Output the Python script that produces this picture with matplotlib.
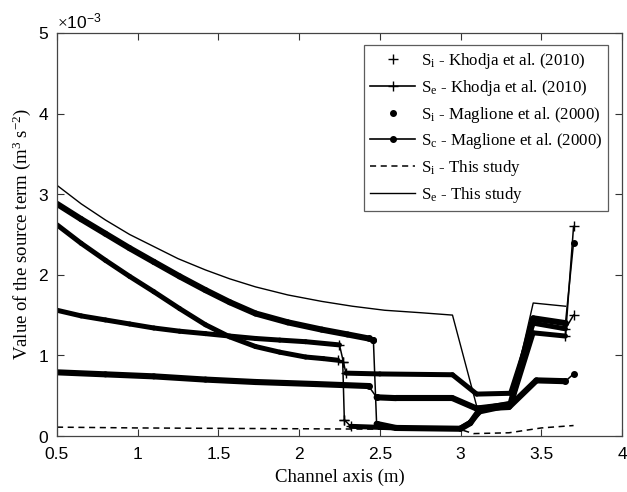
import matplotlib
matplotlib.use("Agg")
import matplotlib.pyplot as plt
from matplotlib.lines import Line2D

plt.rcParams['font.family'] = ['Liberation Serif', 'DejaVu Serif']
plt.rcParams['mathtext.fontset'] = 'custom'
plt.rcParams['mathtext.rm'] = 'Liberation Serif'
plt.rcParams['mathtext.it'] = 'Liberation Serif:italic'

# values in 1e-3 m^3 s^-2
se_study_x = [0.5, 0.65, 0.8, 0.95, 1.1, 1.25, 1.42, 1.57, 1.73, 1.93, 2.14, 2.33, 2.53, 2.75, 2.95,
              3.1, 3.31, 3.45, 3.65]
se_study_y = [3.11, 2.88, 2.68, 2.5, 2.35, 2.2, 2.06, 1.95, 1.85, 1.75, 1.67, 1.61, 1.56, 1.53, 1.50,
              0.37, 0.42, 1.65, 1.61]

si_study_x = [0.5, 1.0, 1.5, 2.0, 2.5, 3.0, 3.08, 3.3, 3.5, 3.7]
si_study_y = [0.11, 0.10, 0.095, 0.09, 0.085, 0.08, 0.03, 0.04, 0.10, 0.13]

khodja_se_x = [0.5, 0.65, 0.8, 0.95, 1.1, 1.26, 1.42, 1.57, 1.73, 1.88, 2.04, 2.15, 2.24, 2.27, 2.28,
               2.32, 2.6, 3.0, 3.06, 3.12, 3.31, 3.45, 3.65, 3.7]
khodja_se_y = [2.62, 2.39, 2.18, 1.98, 1.79, 1.58, 1.38, 1.23, 1.11, 1.04, 0.98, 0.96, 0.94, 0.92, 0.2,
               0.12, 0.1, 0.1, 0.17, 0.3, 0.38, 1.28, 1.24, 2.6]

khodja_si_x = [0.5, 0.65, 0.8, 0.95, 1.1, 1.26, 1.42, 1.57, 1.73, 1.88, 2.04, 2.25, 2.29, 2.5, 2.95,
               3.1, 3.31, 3.45, 3.65, 3.7]
khodja_si_y = [1.56, 1.49, 1.44, 1.39, 1.34, 1.30, 1.27, 1.24, 1.21, 1.19, 1.17, 1.13, 0.78, 0.77, 0.76,
               0.52, 0.53, 1.40, 1.33, 1.5]

maglione_se_x = [0.5, 0.65, 0.8, 0.95, 1.1, 1.26, 1.42, 1.57, 1.73, 1.93, 2.14, 2.3, 2.43, 2.46, 2.48,
                 2.6, 3.0, 3.06, 3.12, 3.31, 3.45, 3.65, 3.7]
maglione_se_y = [2.88, 2.69, 2.51, 2.33, 2.16, 1.98, 1.81, 1.66, 1.52, 1.41, 1.32, 1.26, 1.21, 1.19, 0.15,
                 0.1, 0.09, 0.16, 0.33, 0.40, 1.46, 1.40, 2.4]

maglione_si_x = [0.5, 0.8, 1.1, 1.42, 1.73, 2.1, 2.43, 2.48, 2.6, 2.95, 3.1, 3.3, 3.47, 3.65, 3.7]
maglione_si_y = [0.79, 0.765, 0.74, 0.70, 0.67, 0.645, 0.62, 0.48, 0.47, 0.47, 0.34, 0.36, 0.69, 0.68, 0.77]


def band(ax, xs, ys, lw, marker, ms):
    # dense marker series look like thick bands, sparse jumps like thin lines with markers
    for i in range(len(xs) - 1):
        x0, x1 = xs[i], xs[i + 1]
        y0, y1 = ys[i] * 1e-3, ys[i + 1] * 1e-3
        if x1 - x0 <= 0.051:
            ax.plot([x0, x1], [y0, y1], color='black', lw=1.1)
            ax.plot([x0, x1], [y0, y1], ls='none', marker=marker, ms=ms,
                    color='black', mew=1.0)
        else:
            ax.plot([x0, x1], [y0, y1], color='black', lw=lw,
                    solid_capstyle='round', solid_joinstyle='round')


fig = plt.figure(figsize=(6.27, 4.92), dpi=100)
ax = fig.add_axes([0.0909, 0.1138, 0.9011, 0.8192])

band(ax, khodja_se_x, khodja_se_y, 3.6, '+', 7)
band(ax, khodja_si_x, khodja_si_y, 3.6, '+', 7)
band(ax, maglione_se_x, maglione_se_y, 4.4, 'o', 4)
band(ax, maglione_si_x, maglione_si_y, 4.4, 'o', 4)

ax.plot(si_study_x, [v * 1e-3 for v in si_study_y], color='black', lw=1.1, ls=(0, (4, 3)))
ax.plot(se_study_x, [v * 1e-3 for v in se_study_y], color='black', lw=1.0)

ax.set_xlim(0.5, 4)
ax.set_ylim(0, 5e-3)
ax.set_xticks([0.5, 1, 1.5, 2, 2.5, 3, 3.5, 4])
ax.set_xticklabels(['0.5', '1', '1.5', '2', '2.5', '3', '3.5', '4'])
ax.set_yticks([0, 1e-3, 2e-3, 3e-3, 4e-3, 5e-3])
ax.ticklabel_format(axis='y', style='sci', scilimits=(0, 0), useMathText=True)
ax.tick_params(direction='in', top=True, right=True, length=5, width=0.8,
               colors='#333333', labelcolor='black', labelsize=12.5)
ax.tick_params(axis='x', pad=8)
ax.tick_params(axis='y', pad=6)
for lab in ax.get_xticklabels() + ax.get_yticklabels():
    lab.set_family('Liberation Sans')
ax.yaxis.get_offset_text().set_family('Liberation Sans')
ax.yaxis.get_offset_text().set_fontsize(12.5)
for sp in ax.spines.values():
    sp.set_color('#444444')
    sp.set_linewidth(0.9)

ax.set_xlabel('Channel axis (m)', fontsize=13.5, labelpad=5)
ax.set_ylabel(r'Value of the source term (m$^{3}$ s$^{-2}$)', fontsize=13.5, labelpad=3)

handles = [
    Line2D([], [], ls='none', marker='+', color='black', ms=7),
    Line2D([], [], color='black', lw=1.2, marker='+', ms=7),
    Line2D([], [], ls='none', marker='o', color='black', ms=4),
    Line2D([], [], color='black', lw=1.2, marker='o', ms=4),
    Line2D([], [], color='black', lw=1.1, ls=(0, (4, 3))),
    Line2D([], [], color='black', lw=1.0),
]
labels = [
    r'S$_\mathrm{i}$ - Khodja et al. (2010)',
    r'S$_\mathrm{e}$ - Khodja et al. (2010)',
    r'S$_\mathrm{i}$ - Maglione et al. (2000)',
    r'S$_\mathrm{c}$ - Maglione et al. (2000)',
    r'S$_\mathrm{i}$ - This study',
    r'S$_\mathrm{e}$ - This study',
]
leg = ax.legend(handles, labels, loc='upper right', bbox_to_anchor=(0.975, 0.970),
                fontsize=12.2, frameon=True, fancybox=False, edgecolor='#333333',
                handlelength=2.7, labelspacing=0.4, borderpad=0.35, handletextpad=0.3,
                borderaxespad=0.0)
leg.get_frame().set_linewidth(0.9)

fig.savefig('out.png', dpi=100)
